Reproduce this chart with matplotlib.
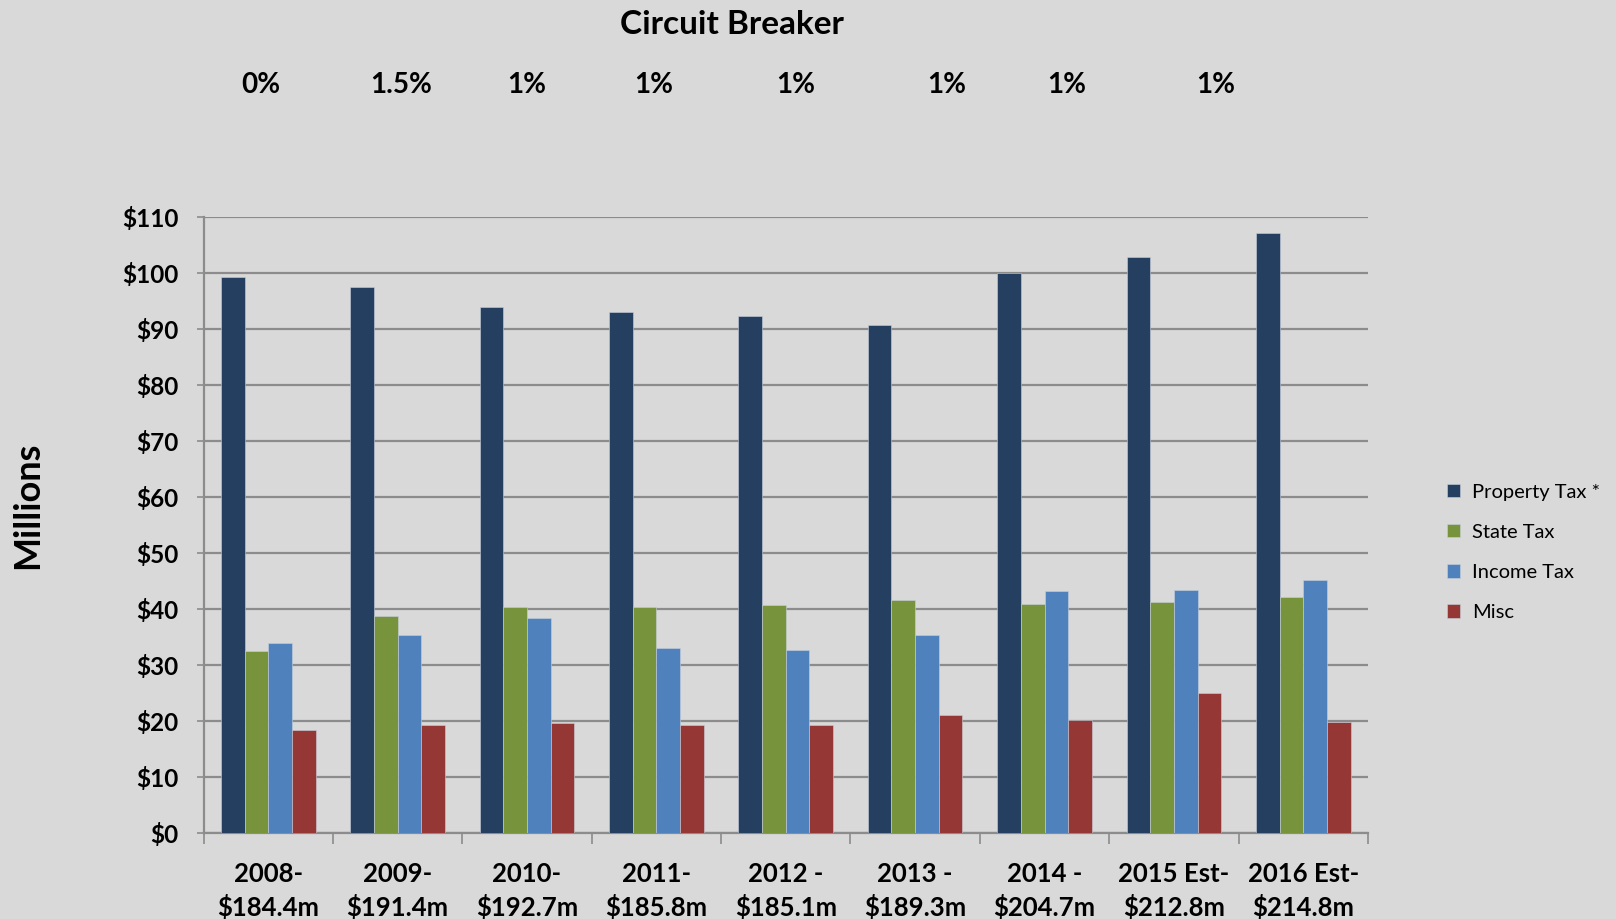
import numpy as np
import matplotlib.pyplot as plt
from matplotlib.transforms import blended_transform_factory

plt.rcParams['font.family'] = ['Lato', 'DejaVu Sans']

years = ['2008-\n$184.4m', '2009-\n$191.4m', '2010-\n$192.7m', '2011-\n$185.8m',
         '2012 -\n$185.1m', '2013 -\n$189.3m', '2014 -\n$204.7m',
         '2015 Est-\n$212.8m', '2016 Est-\n$214.8m']
property_tax = [99.2, 97.4, 93.8, 92.9, 92.3, 90.7, 99.9, 102.7, 107.0]
state_tax = [32.4, 38.7, 40.3, 40.3, 40.6, 41.5, 40.9, 41.2, 42.1]
income_tax = [33.9, 35.4, 38.4, 33.0, 32.6, 35.4, 43.1, 43.4, 45.2]
misc = [18.3, 19.2, 19.55, 19.2, 19.2, 21.0, 20.1, 25.0, 19.8]
breaker = ['0%', '1.5%', '1%', '1%', '1%', '1%', '1%', '1%']
breaker_x = [-0.06, 1.03, 2.0, 2.98, 4.08, 5.24, 6.17, 7.32]

bg = '#d9d9d9'
fig = plt.figure(figsize=(16.16, 9.19), dpi=100, facecolor=bg)
ax = fig.add_axes([0.126, 0.0936, 0.7205, 0.6708], facecolor=bg)

x = np.arange(len(years))
w = 0.183
series = [
    (property_tax, '#243f60', 'Property Tax *'),
    (state_tax, '#77933c', 'State Tax'),
    (income_tax, '#4f81bd', 'Income Tax'),
    (misc, '#953735', 'Misc'),
]
for i, (vals, col, lab) in enumerate(series):
    ax.bar(x + (i - 1.5) * w, vals, w, color=col, label=lab,
           edgecolor='#c8d0dc', linewidth=0.4, zorder=3)

ax.set_xlim(-0.5, 8.5)
ax.set_ylim(0, 110)
ax.set_yticks(range(0, 111, 10))
ax.set_yticklabels([f'${v}' for v in range(0, 111, 10)],
                   fontsize=17.5, fontweight='bold')
ax.grid(axis='y', color='#8c8c8c', linewidth=1.6, zorder=0)

ax.set_xticks(x)
ax.set_xticklabels(years, fontsize=18.5, fontweight='bold', linespacing=1.35)
ax.set_xticks(np.arange(-0.5, 9, 1), minor=True)
ax.tick_params(axis='x', which='major', length=0, pad=21)
ax.tick_params(axis='x', which='minor', length=8, width=1.2, color='#8c8c8c')
ax.tick_params(axis='y', length=5, width=1.2, color='#8c8c8c', pad=13)

for s in ['top', 'right']:
    ax.spines[s].set_visible(False)
for s in ['left', 'bottom']:
    ax.spines[s].set_color('#8c8c8c')
    ax.spines[s].set_linewidth(1.6)

fig.text(0.453, 0.973, 'Circuit Breaker', fontsize=24, fontweight='bold',
         ha='center', va='center')
trans = blended_transform_factory(ax.transData, fig.transFigure)
for bx, lab in zip(breaker_x, breaker):
    ax.text(bx, 0.907, lab, fontsize=20, fontweight='bold', ha='center',
            va='center', transform=trans, clip_on=False)

fig.text(0.017, 0.45, 'Millions', fontsize=26, fontweight='bold',
         rotation=90, ha='center', va='center')

ax.legend(loc='center left', bbox_to_anchor=(0.884, 0.399),
          bbox_transform=fig.transFigure, frameon=False, fontsize=14.5,
          handlelength=0.65, handleheight=0.65, handletextpad=0.6,
          labelspacing=1.15)

fig.savefig('out.png', dpi=100, facecolor=bg)
